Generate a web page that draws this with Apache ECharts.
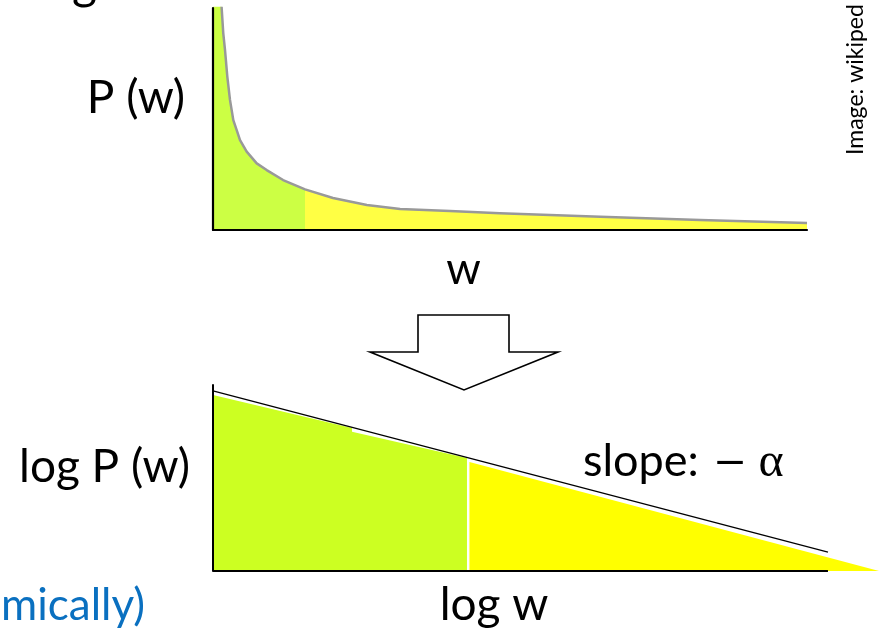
<!DOCTYPE html>
<html>
<head>
<meta charset="utf-8">
<script src="https://cdn.jsdelivr.net/npm/echarts@6/dist/echarts.min.js"></script>
<style>
html,body{margin:0;padding:0;background:#fff;}
#chart{width:879px;height:630px;}
</style>
</head>
<body>
<div id="chart"></div>
<script>
// ---- Data ----
// Top chart: linear P(w) curve (x, y in 0..100 axis units)
var topX = [0, 1.46, 1.73, 2.02, 2.41, 2.86, 3.42, 3.99, 4.55, 5.67, 7.36, 9.04, 11.8, 15.5, 20.2, 25.9, 31.5, 39.9, 48.3, 65.2, 82.0, 100];
var topY = [170, 99.9, 88.6, 81.1, 69.1, 58.6, 49.5, 45.0, 40.5, 35.3, 30.0, 27.0, 22.5, 18.3, 14.4, 11.3, 9.5, 8.6, 7.5, 6.0, 4.5, 3.2];
var topSplitX = 15.5;            // green / yellow boundary

// Bottom chart: log-log straight line and the two shaded regions
var slopeX = [0, 100];
var slopeY = [96.8, 10.2];
var baseX = [0, 100];
var baseY = [0, 0];
var greenX = [0, 22.6, 22.6, 41.3];
var greenY = [94.6, 76.9, 74.9, 60.8];
var yellowX = [41.7, 108.3];
var yellowY = [58.6, 0];

// Labels
var labelTopY = 'P (w)';
var labelTopX = 'w';
var labelBotY = 'log P (w)';
var labelBotX = 'log w';
var labelSlope = 'slope:';
var labelDash = '–';
var labelAlpha = 'α';
var labelCredit = 'Image: wikiped';
var labelBlue = 'mically)';
var labelTitleTail = 'g';

function zip(xs, ys) { return xs.map(function (x, i) { return [x, ys[i]]; }); }

var C_GREEN_TOP = '#CCFF44', C_YELLOW_TOP = '#FFFF44';
var C_GREEN_BOT = '#CCFF22', C_YELLOW_BOT = '#FFFF00';
var FONT = 'Lato, "Open Sans", sans-serif';

var f = (topSplitX - topX[0]) / (topX[topX.length - 1] - topX[0]);
var botMax = yellowX[yellowX.length - 1];

var chart = echarts.init(document.getElementById('chart'), null, {renderer: 'canvas'});

function axisCommon(grid, w, max, showLine) {
  return {
    gridIndex: grid, type: 'value', min: 0, max: max, z: 10,
    axisLine: {show: showLine, onZero: false, lineStyle: {color: '#000', width: w}},
    axisTick: {show: false}, axisLabel: {show: false}, splitLine: {show: false}
  };
}

var option = {
  backgroundColor: '#fff',
  animation: false,
  grid: [
    {left: 213, top: 8, width: 594, height: 222},
    {left: 213, top: 385, width: 666, height: 186}
  ],
  xAxis: [axisCommon(0, 2.2, 100, true), axisCommon(1, 1.6, botMax, false)],
  yAxis: [axisCommon(0, 2.2, 100, true), axisCommon(1, 2, 100, true)],
  series: [
    {
      type: 'line', xAxisIndex: 0, yAxisIndex: 0,
      data: zip(topX, topY), smooth: false,
      symbol: 'none', lineStyle: {color: '#999', width: 2.5, join: 'round'},
      areaStyle: {
        opacity: 1,
        color: new echarts.graphic.LinearGradient(0, 0, 1, 0, [
          {offset: 0, color: C_GREEN_TOP}, {offset: f, color: C_GREEN_TOP},
          {offset: f, color: C_YELLOW_TOP}, {offset: 1, color: C_YELLOW_TOP}
        ])
      }
    },
    {
      type: 'line', xAxisIndex: 1, yAxisIndex: 1,
      data: zip(greenX, greenY), symbol: 'none',
      lineStyle: {width: 0, opacity: 0},
      areaStyle: {color: C_GREEN_BOT, opacity: 1}
    },
    {
      type: 'line', xAxisIndex: 1, yAxisIndex: 1,
      data: zip(yellowX, yellowY), symbol: 'none',
      lineStyle: {width: 0, opacity: 0},
      areaStyle: {color: C_YELLOW_BOT, opacity: 1}
    },
    {
      type: 'line', xAxisIndex: 1, yAxisIndex: 1,
      data: zip(slopeX, slopeY), symbol: 'none',
      lineStyle: {color: '#000', width: 1.3}
    },
    {
      type: 'line', xAxisIndex: 1, yAxisIndex: 1, z: 5,
      data: zip(baseX, baseY), symbol: 'none',
      lineStyle: {color: '#000', width: 1.8}
    }
  ],
  graphic: [
    {type: 'text', x: 72, y: -16, style: {text: labelTitleTail, font: '48px ' + FONT, fill: '#000', align: 'left', verticalAlign: 'middle'}},
    {type: 'text', x: 136, y: 98, style: {text: labelTopY, font: '46px ' + FONT, fill: '#000', align: 'center', verticalAlign: 'middle'}},
    {type: 'text', x: 463.5, y: 270, style: {text: labelTopX, font: '44px ' + FONT, fill: '#000', align: 'center', verticalAlign: 'middle'}},
    {type: 'text', x: 104.5, y: 467, style: {text: labelBotY, font: '46px ' + FONT, fill: '#000', align: 'center', verticalAlign: 'middle'}},
    {type: 'text', x: 494, y: 605, style: {text: labelBotX, font: '46px ' + FONT, fill: '#000', align: 'center', verticalAlign: 'middle'}},
    {type: 'text', x: 583, y: 461, style: {text: labelSlope, font: '45px ' + FONT, fill: '#000', align: 'left', verticalAlign: 'middle'}},
    {type: 'text', x: 730, y: 461, style: {text: labelDash, font: '46px "Liberation Sans", "DejaVu Sans", sans-serif', fill: '#000', align: 'center', verticalAlign: 'middle'}},
    {type: 'text', x: 771, y: 463, style: {text: labelAlpha, font: '48px "Liberation Serif", "DejaVu Serif", serif', fill: '#000', align: 'center', verticalAlign: 'middle'}},
    {type: 'text', x: 1, y: 606, style: {text: labelBlue, font: '44px ' + FONT, fill: '#0A70C0', align: 'left', verticalAlign: 'middle'}},
    {type: 'text', x: 856, y: 155, rotation: Math.PI / 2, style: {text: labelCredit, font: '23px ' + FONT, fill: '#000', align: 'left', verticalAlign: 'middle'}},
    {type: 'polygon', z: 20, shape: {points: [[418, 315], [509, 315], [509, 352], [558, 352], [464, 390], [370, 352], [418, 352]]},
      style: {fill: '#fff', stroke: '#000', lineWidth: 1.6}}
  ]
};
chart.setOption(option);
</script>
</body>
</html>
